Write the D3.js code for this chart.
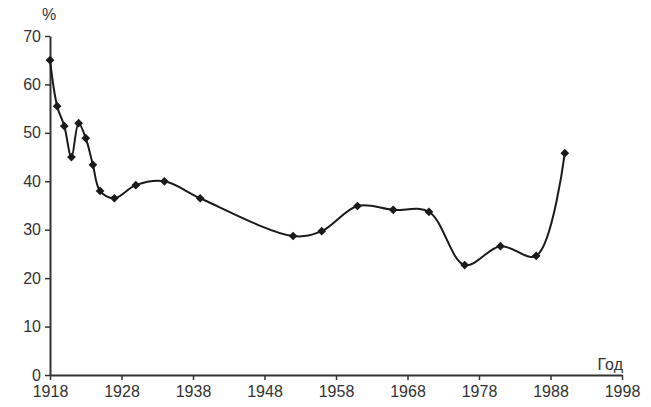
<!DOCTYPE html>
<html><head><meta charset="utf-8">
<script src="https://cdn.jsdelivr.net/npm/d3@7"></script>
<style>body{margin:0;background:#fff}svg{display:block}</style>
</head><body>
<svg id="c" width="651" height="407"></svg>
<script>
const years = [1918,1919,1920,1921,1922,1923,1924,1925,1927,1930,1934,1939,1952,1956,1961,1966,1971,1976,1981,1986,1990];
const values = [65.0,55.5,51.4,45.0,52.0,48.9,43.4,38.0,36.5,39.2,40.0,36.5,28.7,29.7,34.9,34.1,33.7,22.7,26.6,24.6,45.8];
const xTicks = [1918,1928,1938,1948,1958,1968,1978,1988,1998];
const yTicks = [0,10,20,30,40,50,60,70];

const svg = d3.select("#c");
const x = d3.scaleLinear().domain([1918,1998]).range([50,622]);
const y = d3.scaleLinear().domain([0,70]).range([375,36]);
const axisColor = "#333";
const font = "Liberation Sans, Arial, sans-serif";

const xa = svg.append("g").attr("transform","translate(0,375)")
  .call(d3.axisBottom(x).tickValues(xTicks).tickFormat(d3.format("d")).tickSize(5).tickSizeOuter(0));
const ya = svg.append("g").attr("transform","translate(50,0)")
  .call(d3.axisLeft(y).tickValues(yTicks).tickSize(5).tickSizeOuter(0));
[xa,ya].forEach(g=>{
  g.select(".domain").attr("stroke",axisColor).attr("stroke-width",2);
  g.selectAll(".tick line").attr("stroke",axisColor).attr("stroke-width",1.5);
  g.selectAll(".tick text").attr("fill","#333").style("font-family",font).style("font-size","16px");
});
xa.selectAll(".tick text").attr("dy","0.9em");
ya.selectAll(".tick text").attr("x",-9);

svg.append("text").attr("x",42).attr("y",20).attr("fill","#333")
  .style("font-family",font).style("font-size","16px").text("%");
svg.append("text").attr("x",623).attr("y",370).attr("text-anchor","end").attr("fill","#333")
  .style("font-family",font).style("font-size","16px").text("Год");

const data = years.map((yr,i)=>({yr, v: values[i]}));
svg.append("path").datum(data)
  .attr("fill","none").attr("stroke","#1a1a1a").attr("stroke-width",2)
  .attr("d", d3.line().x(d=>x(d.yr)).y(d=>y(d.v)).curve(d3.curveCatmullRom.alpha(0.5)));

svg.selectAll(".m").data(data).enter().append("path")
  .attr("transform",d=>`translate(${x(d.yr)},${y(d.v)}) rotate(45)`)
  .attr("d", d3.symbol(d3.symbolSquare, 38))
  .attr("fill","#1a1a1a");
</script>
</body></html>
